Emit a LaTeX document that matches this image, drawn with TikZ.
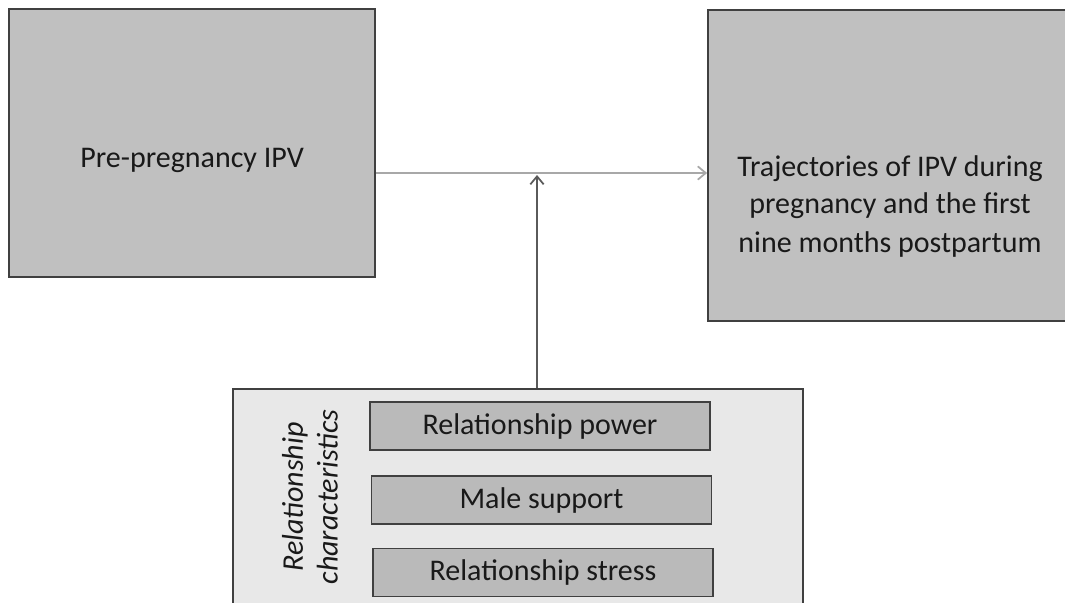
\documentclass[tikz,border=0pt]{standalone}
\usepackage{fontspec}
\setmainfont{Carlito}
\usepackage{tikz}
\usetikzlibrary{arrows.meta,calc}
\definecolor{boxgray}{HTML}{C0C0C0}
\definecolor{panel}{HTML}{E8E8E8}
\definecolor{edge}{HTML}{404040}
\definecolor{linkl}{HTML}{A8A8A8}
\definecolor{linkd}{HTML}{5A5A5A}

\begin{document}
\begin{tikzpicture}[x=0.75pt,y=-0.75pt,
  bigbox/.style={draw=edge,line width=1.3pt,fill=boxgray,inner sep=0pt},
  factor/.style={draw=edge,line width=1.3pt,fill=boxgray!97!black,minimum width=255pt,minimum height=36pt,inner sep=0pt,font=\fontsize{22.5}{26}\selectfont,text=black!90},
  txt/.style={align=center,font=\fontsize{22.5}{28.5}\selectfont,text=black!90},
  arrl/.style={-{Straight Barb[length=6pt,width=10pt]},line width=1.3pt,linkl},
  arrd/.style={-{Straight Barb[length=6pt,width=10pt]},line width=1.3pt,linkd}]
  \useasboundingbox (0,0) rectangle (1065,603);
  \node[bigbox,minimum width=274.5pt,minimum height=201pt] (pre) at (192,143) {};
  \node[txt] (pretxt) at (192,160) {Pre-pregnancy IPV};
  \node[bigbox,minimum width=270pt,minimum height=233pt] (traj) at (888,165.5) {};
  \node[txt] (trajtxt) at (890,206) {Trajectories of IPV during\\pregnancy and the first\\nine months postpartum};
  \node[bigbox,fill=panel,minimum width=427.5pt,minimum height=163pt] (rel) at (518,497.5) {};
  \node[txt,rotate=90,font=\fontsize{22.5}{26}\selectfont\itshape] (relname) at (310,497) {Relationship\\characteristics};
  \node[factor] (power) at (540,426) {Relationship power};
  \node[factor] (support) at (541.5,500) {Male support};
  \node[factor] (stress) at (543,572.5) {Relationship stress};
  \coordinate (joint) at (537,173);
  \draw[arrl] (pre.east |- joint) -- (traj.west |- joint);
  \draw[arrd,shorten >=1.5pt] (rel.north -| joint) -- (joint);
\end{tikzpicture}
\end{document}
